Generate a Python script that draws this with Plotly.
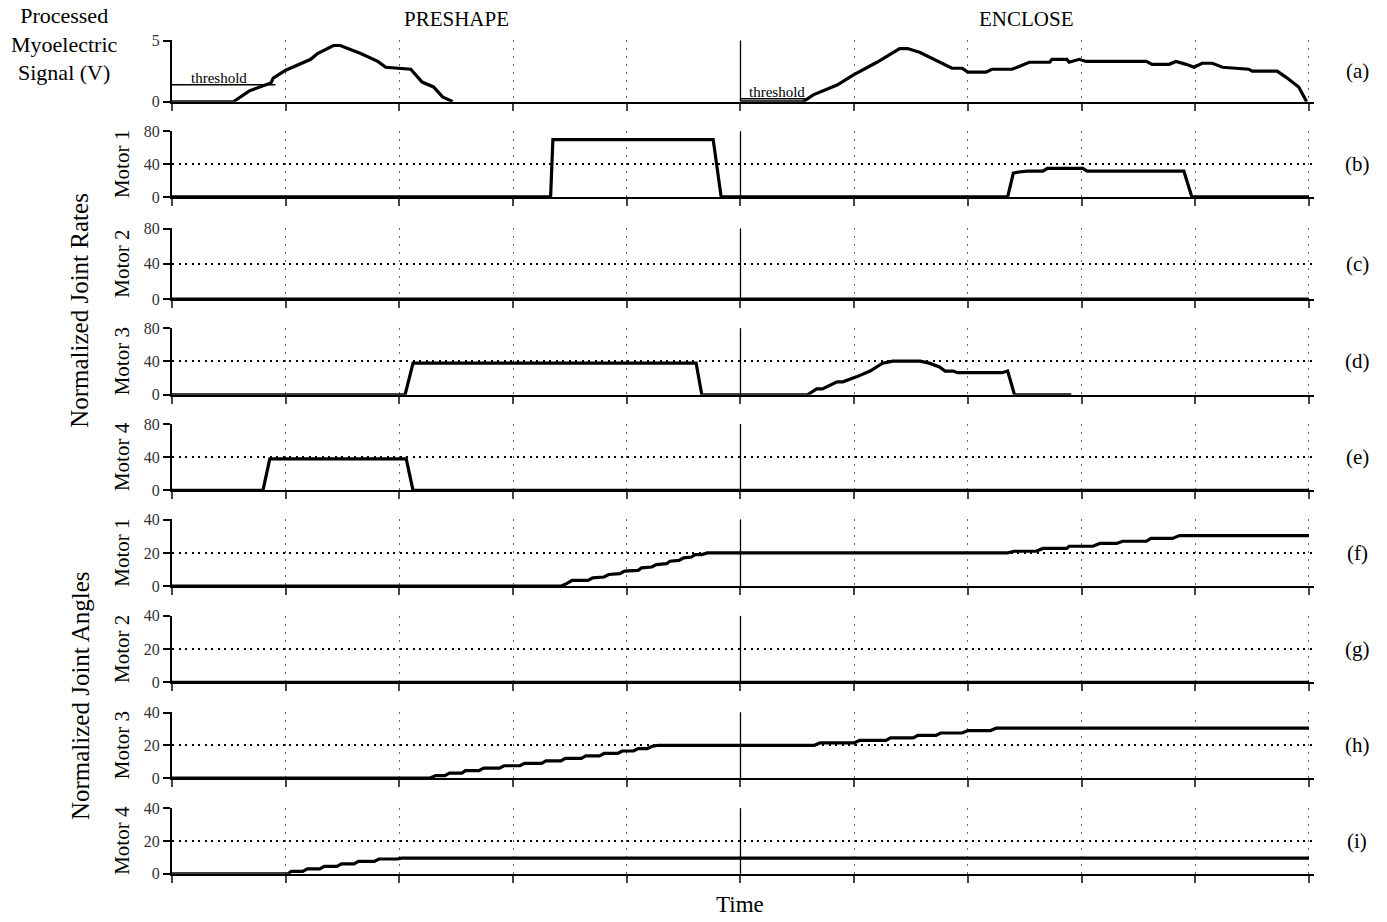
import plotly.graph_objects as go

# ---------------- data ----------------
TIME_RANGE = [0, 10]
TIME_TICK_STEP = 1
PHASE_LABELS = ["PRESHAPE", "ENCLOSE"]
PHASE_BOUNDARY = 5

# (a) processed myoelectric signal (V)
emg_pre_t = [0, 0.54, 0.68, 0.87, 0.89, 1.0, 1.22, 1.28, 1.42, 1.48, 1.66, 1.81, 1.88, 2.1, 2.2, 2.3, 2.38, 2.47]
emg_pre_v = [0, 0, 0.89, 1.53, 1.94, 2.58, 3.47, 3.95, 4.6, 4.6, 3.95, 3.3, 2.82, 2.66, 1.61, 1.21, 0.4, 0]
emg_enc_t = [5.0, 5.55, 5.64, 5.85, 5.99, 6.2, 6.4, 6.47, 6.58, 6.86, 6.95, 7.0, 7.16, 7.21, 7.39, 7.54,
             7.72, 7.74, 7.87, 7.89, 7.98, 8.04, 8.57, 8.62, 8.77, 8.83, 8.92, 8.99, 9.06, 9.15, 9.24,
             9.47, 9.5, 9.72, 9.8, 9.91, 9.98]
emg_enc_v = [0, 0, 0.56, 1.37, 2.18, 3.23, 4.35, 4.35, 4.03, 2.74, 2.74, 2.42, 2.42, 2.66, 2.66, 3.23,
             3.23, 3.47, 3.47, 3.23, 3.47, 3.3, 3.3, 3.06, 3.06, 3.3, 3.06, 2.82, 3.15, 3.15, 2.82,
             2.66, 2.5, 2.5, 2.0, 1.21, 0]
thr_pre_t = [0, 0.91]
thr_pre_v = [1.4, 1.4]
thr_enc_t = [5.0, 5.6]
thr_enc_v = [0.25, 0.25]
thr_label_t = [0.41, 5.32]

# (b)-(e) normalized joint rates
rate1_t = [0, 3.33, 3.35, 4.76, 4.83, 7.35, 7.40, 7.45, 7.52, 7.66, 7.70, 8.01, 8.05, 8.90, 8.97, 10]
rate1_v = [0, 0, 70, 70, 0, 0, 29, 30.5, 31.5, 31.5, 35, 35, 31.5, 31.5, 0, 0]
rate2_t = [0, 10]
rate2_v = [0, 0]
rate3_t = [0, 2.05, 2.12, 4.61, 4.66, 5.59, 5.67, 5.72, 5.85, 5.90, 6.02, 6.14, 6.25, 6.34, 6.58,
           6.66, 6.75, 6.80, 6.87, 6.91, 7.30, 7.35, 7.41, 7.91]
rate3_v = [0, 0, 38, 38, 0, 0, 7, 7, 15.5, 15.5, 21.5, 28.5, 38, 40.5, 40.5,
           38, 33.5, 28.5, 28.5, 26.5, 26.5, 28.5, 0, 0]
rate4_t = [0, 0.80, 0.86, 2.06, 2.12, 10]
rate4_v = [0, 0, 38, 38, 0, 0]

# (f)-(i) normalized joint angles
angle1_t = [0, 3.42, 3.47, 3.52, 3.66, 3.70, 3.80, 3.84, 3.94, 3.98, 4.10, 4.13, 4.22, 4.26, 4.35,
            4.38, 4.46, 4.50, 4.57, 4.60, 4.66, 4.71, 7.35, 7.41, 7.60, 7.66, 7.87, 7.89, 8.10, 8.16,
            8.31, 8.36, 8.57, 8.61, 8.80, 8.86, 10]
angle1_v = [0, 0, 1.5, 3.5, 3.5, 5, 5.5, 7, 7.5, 9, 9.5, 11, 11.5, 13, 13.5,
            15, 15.5, 17, 17.5, 19, 19, 20, 20, 21, 21, 22.7, 22.7, 24, 24, 25.7,
            25.7, 27, 27, 28.7, 28.7, 30.4, 30.4]
angle2_t = [0, 10]
angle2_v = [0, 0]
angle3_t = [0, 2.27, 2.32, 2.40, 2.44, 2.55, 2.58, 2.70, 2.74, 2.88, 2.92, 3.06, 3.10, 3.25, 3.29,
            3.42, 3.46, 3.60, 3.64, 3.76, 3.80, 3.92, 3.96, 4.06, 4.10, 4.18, 4.23, 4.28, 5.65, 5.70,
            6.00, 6.05, 6.28, 6.32, 6.52, 6.56, 6.72, 6.76, 6.95, 7.00, 7.20, 7.25, 10]
angle3_v = [0, 0, 1.5, 1.5, 3, 3, 4.5, 4.5, 6, 6, 7.5, 7.5, 9, 9, 10.5,
            10.5, 12, 12, 13.5, 13.5, 15, 15, 16.5, 16.5, 18, 18, 19.5, 20, 20, 21.5,
            21.5, 23, 23, 24.5, 24.5, 26, 26, 27.5, 27.5, 29, 29, 30.5, 30.5]
angle4_t = [0, 1.02, 1.05, 1.15, 1.19, 1.30, 1.34, 1.45, 1.49, 1.60, 1.64, 1.78, 1.82, 1.98, 2.02, 10]
angle4_v = [0, 0, 1.5, 1.5, 3, 3, 4.5, 4.5, 6, 6, 7.5, 7.5, 9, 9, 9.5, 9.5]

panel_letters = ["(a)", "(b)", "(c)", "(d)", "(e)", "(f)", "(g)", "(h)", "(i)"]
motor_labels = ["", "Motor 1", "Motor 2", "Motor 3", "Motor 4", "Motor 1", "Motor 2", "Motor 3", "Motor 4"]
y_tops = [5, 80, 80, 80, 80, 40, 40, 40, 40]
y_ticks = [[0, 5], [0, 40, 80], [0, 40, 80], [0, 40, 80], [0, 40, 80],
           [0, 20, 40], [0, 20, 40], [0, 20, 40], [0, 20, 40]]

series = [
    [(emg_pre_t, emg_pre_v), (emg_enc_t, emg_enc_v)],
    [(rate1_t, rate1_v)], [(rate2_t, rate2_v)], [(rate3_t, rate3_v)], [(rate4_t, rate4_v)],
    [(angle1_t, angle1_v)], [(angle2_t, angle2_v)], [(angle3_t, angle3_v)], [(angle4_t, angle4_v)],
]

# ---------------- layout geometry (figure pixels) ----------------
W, H = 1387, 922
X_LEFT, X_RIGHT = 172, 1313.5
panel_top_px = [33, 125.5, 224.5, 326, 423.5, 521, 619, 717.5, 815]
panel_bot_px = [95.5, 192.5, 296.5, 394, 491.5, 589, 687, 784.5, 882]
PAD = 1.004   # tiny range padding so the gridline at the range end is drawn

SERIF = "Liberation Serif, Times New Roman, serif"


def py(p):
    return 1 - p / H


def px(p):
    return p / W


fig = go.Figure()
layout = dict(
    width=W, height=H, autosize=False,
    margin=dict(l=0, r=0, t=0, b=0),
    paper_bgcolor="white", plot_bgcolor="white",
    showlegend=False,
    font=dict(family=SERIF, color="black"),
)
shapes = []
annotations = []
x_mid_px = X_LEFT + (X_RIGHT - X_LEFT) * PHASE_BOUNDARY / (TIME_RANGE[1] * PAD)

for i in range(9):
    n = i + 1
    xa = "x" if n == 1 else f"x{n}"
    ya = "y" if n == 1 else f"y{n}"
    for (t, v) in series[i]:
        fig.add_trace(go.Scatter(x=t, y=v, mode="lines", xaxis=xa, yaxis=ya,
                                 line=dict(color="black", width=3.2),
                                 hoverinfo="skip", cliponaxis=False))
    layout["xaxis" if n == 1 else f"xaxis{n}"] = dict(
        domain=[px(X_LEFT), px(X_RIGHT)], range=[TIME_RANGE[0], TIME_RANGE[1] * PAD], anchor=ya,
        tickmode="linear", tick0=0, dtick=TIME_TICK_STEP,
        showticklabels=False, ticks="outside", ticklen=7, tickwidth=2, tickcolor="#444",
        showline=True, linecolor="black", linewidth=2,
        showgrid=True, gridcolor="#666", gridwidth=1, griddash="2px,6px",
        zeroline=False, fixedrange=True,
    )
    layout["yaxis" if n == 1 else f"yaxis{n}"] = dict(
        domain=[py(panel_bot_px[i]), py(panel_top_px[i])], range=[0, y_tops[i] * PAD], anchor=xa,
        tickmode="array", tickvals=y_ticks[i], ticktext=[str(v) for v in y_ticks[i]],
        ticks="outside", ticklen=7, tickwidth=2, tickcolor="black",
        tickfont=dict(family=SERIF, size=16, color="#333"),
        showline=True, linecolor="black", linewidth=2,
        showgrid=True, gridcolor="black", gridwidth=2, griddash="2px,4.5px",
        zeroline=False, fixedrange=True,
    )
    # phase boundary line
    shapes.append(dict(type="line", xref=xa, yref=ya, x0=PHASE_BOUNDARY, x1=PHASE_BOUNDARY,
                       y0=0, y1=y_tops[i], line=dict(color="black", width=1.3), layer="above"))
    yc = (panel_top_px[i] + panel_bot_px[i]) / 2
    annotations.append(dict(text=panel_letters[i], x=px(1357), y=py(yc), xref="paper", yref="paper",
                            showarrow=False, font=dict(family=SERIF, size=21, color="black"),
                            xanchor="center", yanchor="middle"))
    if motor_labels[i]:
        annotations.append(dict(text=motor_labels[i], x=px(122), y=py(yc), xref="paper", yref="paper",
                                showarrow=False, textangle=-90,
                                font=dict(family=SERIF, size=21, color="black"),
                                xanchor="center", yanchor="middle"))

# threshold lines in panel (a)
for (t, v) in [(thr_pre_t, thr_pre_v), (thr_enc_t, thr_enc_v)]:
    fig.add_trace(go.Scatter(x=t, y=v, mode="lines", xaxis="x", yaxis="y",
                             line=dict(color="black", width=1.5), hoverinfo="skip", cliponaxis=False))
for lt, v in zip(thr_label_t, [thr_pre_v[0], thr_enc_v[0]]):
    annotations.append(dict(text="threshold", x=lt, y=v, xref="x", yref="y", showarrow=False,
                            yanchor="bottom", yshift=-3, font=dict(family=SERIF, size=15, color="black")))

# phase titles
annotations.append(dict(text=PHASE_LABELS[0], x=px((X_LEFT + x_mid_px) / 2), y=py(11), xref="paper",
                        yref="paper", showarrow=False, font=dict(family=SERIF, size=21, color="black"),
                        xanchor="center", yanchor="middle"))
annotations.append(dict(text=PHASE_LABELS[1], x=px((x_mid_px + X_RIGHT) / 2), y=py(11), xref="paper",
                        yref="paper", showarrow=False, font=dict(family=SERIF, size=21, color="black"),
                        xanchor="center", yanchor="middle"))

# group labels
annotations.append(dict(text="Processed<br>Myoelectric<br>Signal (V)", x=px(64), y=py(37), xref="paper",
                        yref="paper", showarrow=False, align="center",
                        font=dict(family=SERIF, size=22, color="black"),
                        xanchor="center", yanchor="middle"))
annotations.append(dict(text="Normalized Joint Rates", x=px(80), y=py(308.5), xref="paper", yref="paper",
                        showarrow=False, textangle=-90, font=dict(family=SERIF, size=25, color="black"),
                        xanchor="center", yanchor="middle"))
annotations.append(dict(text="Normalized Joint Angles", x=px(80), y=py(701), xref="paper", yref="paper",
                        showarrow=False, textangle=-90, font=dict(family=SERIF, size=25, color="black"),
                        xanchor="center", yanchor="middle"))
annotations.append(dict(text="Time", x=px(x_mid_px), y=py(913), xref="paper", yref="paper",
                        showarrow=False, font=dict(family=SERIF, size=23, color="black"),
                        xanchor="center", yanchor="middle"))

layout["shapes"] = shapes
layout["annotations"] = annotations
fig.update_layout(**layout)

# place the figure at the window origin (remove the default page margin)
fig.write_html("out.html", config={"displayModeBar": False},
               post_script="document.body.style.margin='0px'; document.body.style.overflow='hidden';")
